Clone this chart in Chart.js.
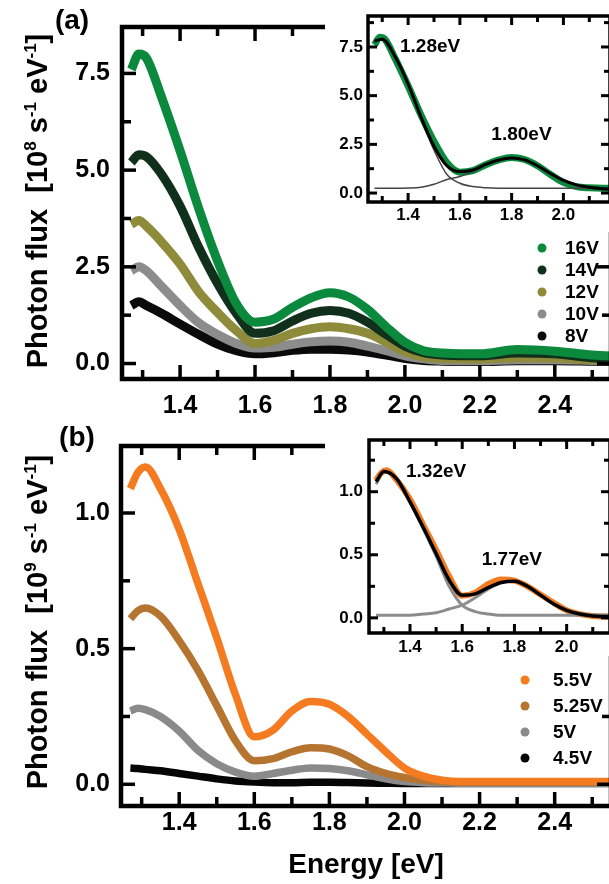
<!DOCTYPE html>
<html>
<head>
<meta charset="utf-8">
<script src="https://cdn.jsdelivr.net/npm/chart.js@4.4.1/dist/chart.umd.min.js"></script>
<style>
  html, body { margin: 0; padding: 0; background: #fff; }
  body { width: 609px; height: 884px; overflow: hidden; position: relative; }
  canvas { position: absolute; }
</style>
</head>
<body>
<canvas id="mainA" width="640" height="420" style="left:0;top:0"></canvas>
<canvas id="insetA" width="300" height="232" style="left:325px;top:0"></canvas>
<canvas id="mainB" width="640" height="464" style="left:0;top:420px"></canvas>
<canvas id="insetB" width="300" height="236" style="left:325px;top:420px"></canvas>
<script>
// energy grid the curves were read at (eV)
const energy = [1.27, 1.29, 1.31, 1.35, 1.40, 1.45, 1.50, 1.55, 1.60, 1.65, 1.70, 1.75, 1.80,
                1.85, 1.90, 1.95, 2.00, 2.05, 2.10, 2.15, 2.20, 2.30, 2.40, 2.50, 2.60];

// panel (a), 10^8 s^-1 eV^-1
const labelsA = ['16V', '14V', '12V', '10V', '8V'];
const colorsA = ['#0b8a3e', '#11301b', '#8e8b3b', '#8c8c8c', '#0a0a0a'];
const flux16 = [7.6, 8.0, 7.9, 6.9, 5.5, 4.0, 2.65, 1.55, 1.07, 1.15, 1.45, 1.70, 1.83, 1.72, 1.40, 0.95, 0.55, 0.33, 0.27, 0.25, 0.25, 0.36, 0.32, 0.22, 0.18];
const flux14 = [5.2, 5.4, 5.35, 4.9, 4.07, 3.0, 2.07, 1.3, 0.78, 0.85, 1.1, 1.3, 1.37, 1.3, 1.07, 0.75, 0.45, 0.28, 0.22, 0.2, 0.2, 0.27, 0.25, 0.15, 0.12];
const flux12 = [3.6, 3.7, 3.55, 3.15, 2.57, 1.85, 1.32, 0.85, 0.52, 0.6, 0.78, 0.9, 0.95, 0.9, 0.78, 0.55, 0.3, 0.17, 0.13, 0.12, 0.12, 0.15, 0.14, 0.1, 0.08];
const flux10 = [2.4, 2.5, 2.4, 2.0, 1.5, 1.05, 0.75, 0.52, 0.4, 0.42, 0.5, 0.56, 0.58, 0.55, 0.45, 0.33, 0.2, 0.12, 0.08, 0.07, 0.07, 0.1, 0.1, 0.08, 0.06];
const flux8 = [1.5, 1.6, 1.5, 1.3, 1.02, 0.75, 0.5, 0.33, 0.25, 0.28, 0.34, 0.37, 0.37, 0.35, 0.3, 0.22, 0.13, 0.08, 0.06, 0.05, 0.05, 0.07, 0.07, 0.06, 0.05];

// panel (b), 10^9 s^-1 eV^-1
const labelsB = ['5.5V', '5.25V', '5V', '4.5V'];
const colorsB = ['#f47b20', '#b5742f', '#8a8a8a', '#050505'];
const flux55 = [1.09, 1.15, 1.17, 1.09, 0.94, 0.74, 0.54, 0.33, 0.175, 0.20, 0.27, 0.305, 0.295, 0.25, 0.185, 0.12, 0.06, 0.03, 0.015, 0.01, 0.01, 0.01, 0.01, 0.01, 0.01];
const flux525 = [0.61, 0.64, 0.65, 0.62, 0.53, 0.42, 0.29, 0.16, 0.087, 0.095, 0.12, 0.135, 0.13, 0.105, 0.065, 0.04, 0.025, 0.015, 0.01, 0.008, 0.008, 0.008, 0.008, 0.008, 0.008];
const flux5 = [0.27, 0.28, 0.275, 0.25, 0.196, 0.125, 0.076, 0.045, 0.03, 0.04, 0.052, 0.06, 0.058, 0.05, 0.035, 0.02, 0.01, 0.006, 0.005, 0.004, 0.004, 0.004, 0.004, 0.004, 0.004];
const flux45 = [0.06, 0.058, 0.055, 0.05, 0.04, 0.03, 0.02, 0.012, 0.008, 0.006, 0.006, 0.008, 0.008, 0.007, 0.005, 0.004, 0.003, 0.003, 0.003, 0.003, 0.003, 0.003, 0.003, 0.003, 0.003];

// inset fits (two gaussians + sum)
const fitEnergy = [1.27, 1.30, 1.35, 1.40, 1.45, 1.50, 1.55, 1.60, 1.65, 1.70, 1.75, 1.80, 1.85, 1.90, 1.95, 2.00, 2.05, 2.10, 2.15, 2.20];
const fitA = [7.8, 7.9, 7.0, 5.6, 3.9, 2.4, 1.4, 1.1, 1.18, 1.47, 1.7, 1.8, 1.7, 1.4, 1.0, 0.65, 0.42, 0.3, 0.22, 0.18];
const peak1A = [7.8, 7.9, 7.0, 5.6, 3.8, 2.2, 0.95, 0.5, 0.33, 0.27, 0.25, 0.25, 0.25, 0.25, 0.25, 0.25, 0.25, 0.25, 0.25, 0.25];
const peak2A = [0.25, 0.25, 0.25, 0.26, 0.3, 0.45, 0.7, 0.85, 1.1, 1.45, 1.7, 1.8, 1.7, 1.4, 1.0, 0.65, 0.42, 0.3, 0.26, 0.25];
const fitB = [1.08, 1.16, 1.1, 0.92, 0.72, 0.51, 0.3, 0.18, 0.19, 0.24, 0.28, 0.29, 0.25, 0.18, 0.11, 0.06, 0.03, 0.015, 0.01, 0.005];
const peak1B = [1.06, 1.16, 1.1, 0.92, 0.71, 0.49, 0.25, 0.10, 0.05, 0.03, 0.02, 0.02, 0.02, 0.02, 0.02, 0.02, 0.02, 0.02, 0.02, 0.02];
const peak2B = [0.02, 0.02, 0.02, 0.02, 0.03, 0.04, 0.07, 0.10, 0.16, 0.23, 0.28, 0.29, 0.25, 0.18, 0.11, 0.06, 0.035, 0.022, 0.02, 0.02];

const FONT = "'Liberation Sans', Arial, sans-serif";
Chart.defaults.font.family = FONT;
Chart.defaults.font.weight = 'bold';
Chart.defaults.color = '#000';

const pts = (xs, ys) => xs.map((x, i) => ({ x: x, y: ys[i] }));
const isMajor = (v, m) => Math.abs(v / m - Math.round(v / m)) < 1e-6;

function axis(min, max, step, major, size, pad, fit, horiz) {
  return {
    type: 'linear', min: min, max: max,
    grid: { display: false, drawTicks: false },
    border: { display: false },
    ticks: {
      stepSize: step, includeBounds: false, autoSkip: false, maxRotation: 0,
      padding: pad, font: { size: size, weight: 'bold' },
      callback: v => isMajor(v, major) ? v.toFixed(1) : ''
    },
    afterFit: s => { if (horiz) s.height = fit; else s.width = fit; }
  };
}

function curve(data, color, width) {
  return { data: data, borderColor: color, backgroundColor: color, borderWidth: width,
           pointRadius: 0, cubicInterpolationMode: 'monotone', clip: 0, fill: false };
}

// one plugin per chart: inward ticks on four sides, box, legend, y title, panel letter, peak labels
function makeDecor(o) {
  return {
    id: 'decor',
    beforeDraw(chart) {
      if (o.white) {
        const a = chart.chartArea, ctx = chart.ctx;
        ctx.save();
        ctx.fillStyle = '#fff';
        ctx.fillRect(0, a.top + 2, chart.width, chart.height);
        ctx.restore();
      }
    },
    afterDraw(chart) {
      const ctx = chart.ctx, a = chart.chartArea;
      const xs = chart.scales.x, ys = chart.scales.y;
      const f = o.frame;
      ctx.save();
      ctx.fillStyle = '#000';
      // x ticks, bottom and mirrored on top
      for (let k = Math.ceil(xs.min / f.xStep - 1e-6); k <= Math.floor(xs.max / f.xStep + 1e-6); k++) {
        const v = k * f.xStep;
        const px = xs.getPixelForValue(v);
        const len = isMajor(v, f.xMajor) ? f.longTick : f.shortTick;
        ctx.fillRect(px - f.tickWidth / 2, a.bottom - len, f.tickWidth, len);
        ctx.fillRect(px - f.tickWidth / 2, a.top, f.tickWidth, len);
      }
      // y ticks, left and mirrored on right
      for (let k = Math.ceil(ys.min / f.yStep - 1e-6); k <= Math.floor(ys.max / f.yStep + 1e-6); k++) {
        const v = k * f.yStep;
        const py = ys.getPixelForValue(v);
        const len = isMajor(v, f.yMajor) ? f.longTick : f.shortTick;
        ctx.fillRect(a.left, py - f.tickWidth / 2, len, f.tickWidth);
        ctx.fillRect(a.right - len, py - f.tickWidth / 2, len, f.tickWidth);
      }
      ctx.strokeStyle = '#000';
      ctx.lineWidth = f.frameWidth;
      ctx.strokeRect(a.left, a.top, a.right - a.left, a.bottom - a.top);

      if (o.legend) {
        const L = o.legend;
        chart.data.datasets.forEach((d, i) => {
          const y = L.y + i * L.dy;
          ctx.fillStyle = d.borderColor;
          ctx.beginPath(); ctx.arc(L.x, y, 4.5, 0, Math.PI * 2); ctx.fill();
          ctx.fillStyle = '#000';
          ctx.font = 'bold 19px ' + FONT;
          ctx.textBaseline = 'middle';
          ctx.textAlign = 'left';
          ctx.fillText(d.label, L.textX, y + 1);
        });
      }
      if (o.title) {
        const T = o.title;
        let total = 0;
        const w = [];
        T.parts.forEach(p => {
          ctx.font = 'bold ' + (p.sup ? 17 : 29) + 'px ' + FONT;
          w.push(ctx.measureText(p.t).width);
          total += w[w.length - 1];
        });
        ctx.save();
        ctx.translate(T.x, T.cy);
        ctx.rotate(-Math.PI / 2);
        ctx.fillStyle = '#000';
        ctx.textBaseline = 'alphabetic';
        ctx.textAlign = 'left';
        let cx = -total / 2;
        T.parts.forEach((p, i) => {
          ctx.font = 'bold ' + (p.sup ? 17 : 29) + 'px ' + FONT;
          ctx.fillText(p.t, cx, p.sup ? -11 : 0);
          cx += w[i];
        });
        ctx.restore();
      }
      ctx.fillStyle = '#000';
      if (o.panel) {
        ctx.font = 'bold 28px ' + FONT;
        ctx.textAlign = 'center';
        ctx.textBaseline = 'middle';
        ctx.fillText(o.panel.text, o.panel.x, o.panel.y);
      }
      if (o.notes) {
        ctx.font = 'bold 19px ' + FONT;
        ctx.textAlign = 'center';
        ctx.textBaseline = 'middle';
        o.notes.forEach(n => {
          ctx.fillText(n.text, xs.getPixelForValue(n.x), ys.getPixelForValue(n.y));
        });
      }
      ctx.restore();
    }
  };
}

const titleParts = exp => [
  { t: 'Photon flux  [10' }, { t: exp, sup: true }, { t: ' s' }, { t: '-1', sup: true },
  { t: ' eV' }, { t: '-1', sup: true }, { t: ']' }
];

function base(padTop, padRight) {
  return {
    responsive: false, animation: false, devicePixelRatio: 1,
    layout: { padding: { left: 0, top: padTop, right: padRight, bottom: 0 } },
    plugins: { legend: { display: false }, tooltip: { enabled: false } }
  };
}

const mainFrame = (yStep, yMajor) => ({ tickWidth: 3.5, longTick: 14, shortTick: 9, frameWidth: 4.5, xStep: 0.1, xMajor: 0.2, yStep: yStep, yMajor: yMajor });
const insetFrame = (yStep, yMajor) => ({ tickWidth: 3, longTick: 9, shortTick: 6, frameWidth: 3.5, xStep: 0.1, xMajor: 0.2, yStep: yStep, yMajor: yMajor });

// ---- panel (a) main
const optA = base(16, 29);
optA.scales = {
  x: axis(1.245, 2.55, 0.1, 0.2, 25, 12, 41, true),
  y: axis(-0.4, 8.7, 1.25, 2.5, 25, 12, 122, false)
};
const seriesA = [flux16, flux14, flux12, flux10, flux8];
new Chart(document.getElementById('mainA'), {
  type: 'line',
  data: { datasets: seriesA.map((s, i) => Object.assign(curve(pts(energy, s), colorsA[i], 9), { label: labelsA[i] })) },
  options: optA,
  plugins: [makeDecor({
    frame: mainFrame(1.25, 2.5),
    legend: { x: 542, y: 248, dy: 22, textX: 565 },
    title: { x: 47, cy: 201, parts: titleParts('8') },
    panel: { text: '(a)', x: 72, y: 21 }
  })]
});

// ---- panel (a) inset
const optIA = base(16, 15);
optIA.scales = {
  x: axis(1.245, 2.18, 0.1, 0.2, 17, 3, 30, true),
  y: axis(-0.46, 9.09, 1.25, 2.5, 17, 5, 43, false)
};
new Chart(document.getElementById('insetA'), {
  type: 'line',
  data: { datasets: [
    curve(pts(fitEnergy, fitA), '#000', 3),
    curve(pts(fitEnergy, peak1A), '#444', 1.5),
    curve(pts(fitEnergy, peak2A), '#444', 1.5),
    curve(pts(energy, flux16), colorsA[0], 7)
  ] },
  options: optIA,
  plugins: [makeDecor({
    white: true,
    frame: insetFrame(1.25, 2.5),
    notes: [{ text: '1.28eV', x: 1.485, y: 7.5 }, { text: '1.80eV', x: 1.838, y: 2.98 }]
  })]
});

// ---- panel (b) main
const optB = base(20, 29);
optB.scales = {
  x: axis(1.245, 2.55, 0.1, 0.2, 25, 2, 78, true),
  y: axis(-0.08, 1.247, 0.25, 0.5, 25, 11, 121, false)
};
optB.scales.x.title = { display: true, text: 'Energy [eV]', font: { size: 28, weight: 'bold' }, padding: { top: 0, bottom: 2 } };
const seriesB = [flux55, flux525, flux5, flux45];
new Chart(document.getElementById('mainB'), {
  type: 'line',
  data: { datasets: seriesB.map((s, i) => Object.assign(curve(pts(energy, s), colorsB[i], 7.5), { label: labelsB[i] })) },
  options: optB,
  plugins: [makeDecor({
    frame: mainFrame(0.25, 0.5),
    legend: { x: 525, y: 260, dy: 26, textX: 553 },
    title: { x: 47, cy: 202, parts: titleParts('9') },
    panel: { text: '(b)', x: 77, y: 18 }
  })]
});

// ---- panel (b) inset
const optIB = base(20, 15);
optIB.scales = {
  x: axis(1.243, 2.166, 0.1, 0.2, 17, 4, 23, true),
  y: axis(-0.12, 1.41, 0.25, 0.5, 17, 6, 44, false)
};
new Chart(document.getElementById('insetB'), {
  type: 'line',
  data: { datasets: [
    curve(pts(fitEnergy, fitB), '#000', 3.5),
    curve(pts(fitEnergy, peak1B), '#8c8c8c', 3),
    curve(pts(fitEnergy, peak2B), '#8c8c8c', 3),
    curve(pts(energy, flux55), colorsB[0], 6)
  ] },
  options: optIB,
  plugins: [makeDecor({
    white: true,
    frame: insetFrame(0.25, 0.5),
    notes: [{ text: '1.32eV', x: 1.50, y: 1.16 }, { text: '1.77eV', x: 1.79, y: 0.46 }]
  })]
});
</script>
</body>
</html>
